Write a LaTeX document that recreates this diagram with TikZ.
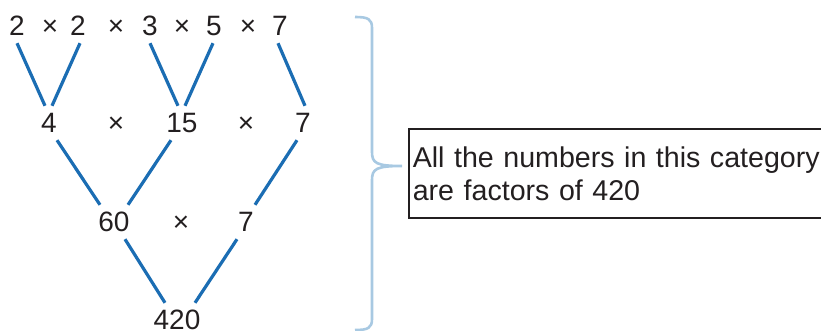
\documentclass[tikz,border=0pt]{standalone}
\usepackage{fontspec}
\setmainfont{Liberation Sans}
\usetikzlibrary{positioning}
\definecolor{treeblue}{HTML}{1B6DB3}
\definecolor{braceblue}{HTML}{A8C9E2}
\definecolor{inkgray}{HTML}{231F20}
\tikzset{
    numnode/.style={inner sep=0pt, minimum height=34pt, text=inkgray,
        font=\fontsize{28}{30}\selectfont},
    timesnode/.style={inner sep=0pt, text=inkgray, font=\fontsize{28}{30}\selectfont},
    treeline/.style={treeblue, line width=3.2pt},
    notebox/.style={draw=inkgray, line width=1.6pt, align=left, text width=440pt,
        minimum height=89pt, inner xsep=4pt, text=inkgray,
        font=\fontsize{28.6}{33}\selectfont}
}

\begin{document}
\begin{tikzpicture}[x=1pt, y=-1pt]
\useasboundingbox (0,0) rectangle (821,331);
% prime factors
\node[numnode] (t1) at (17,26) {2};
\node[timesnode] (x1) at (50,28) {×};
\node[numnode] (t2) at (78,26) {2};
\node[timesnode] (x2) at (116,28) {×};
\node[numnode] (t3) at (150,26) {3};
\node[timesnode] (x3) at (182,28) {×};
\node[numnode] (t4) at (214,26) {5};
\node[timesnode] (x4) at (248,28) {×};
\node[numnode] (t5) at (280,26) {7};
% second row
\node[numnode] (m1) at (49,123) {4};
\node[timesnode] (x5) at (116,125) {×};
\node[numnode] (m2) at (182,123) {15};
\node[timesnode] (x6) at (246,125) {×};
\node[numnode] (m3) at (303,123) {7};
% third row
\node[numnode] (b1) at (114,222) {60};
\node[timesnode] (x7) at (181,224) {×};
\node[numnode] (b2) at (246,222) {7};
% product
\node[numnode] (r) at (177,320) {420};
\draw[treeline] (t1.south) -- ([xshift=-4]m1.north);
\draw[treeline] ([xshift=2]t2.south) -- ([xshift=3]m1.north);
\draw[treeline] (t3.south) -- ([xshift=-4]m2.north);
\draw[treeline] ([xshift=-1]t4.south) -- ([xshift=3]m2.north);
\draw[treeline] ([xshift=-2]t5.south) -- ([xshift=2]m3.north);
\draw[treeline] ([xshift=8]m1.south) -- ([xshift=-14]b1.north);
\draw[treeline] ([xshift=-11]m2.south) -- ([xshift=14]b1.north);
\draw[treeline] ([xshift=-6]m3.south) -- ([xshift=9]b2.north);
\draw[treeline] ([xshift=11]b1.south) -- ([xshift=-12]r.north);
\draw[treeline] ([xshift=-9]b2.south) -- ([xshift=18]r.north);
% brace and note
\node[notebox, anchor=north west] (note) at (408,128)
    {All the numbers in this category\\are factors of 420};
\coordinate (tip) at (402,166);
\draw[braceblue, line width=2.6pt, line join=round]
    (355,17) .. controls (368,17) and (372,19) .. (372,28) -- (372,152)
    .. controls (372,163) and (376,166) .. (tip)
    (tip) .. controls (376,166) and (372,169) .. (372,180) -- (372,319)
    .. controls (372,328) and (368,330) .. (355,330);
\end{tikzpicture}
\end{document}
